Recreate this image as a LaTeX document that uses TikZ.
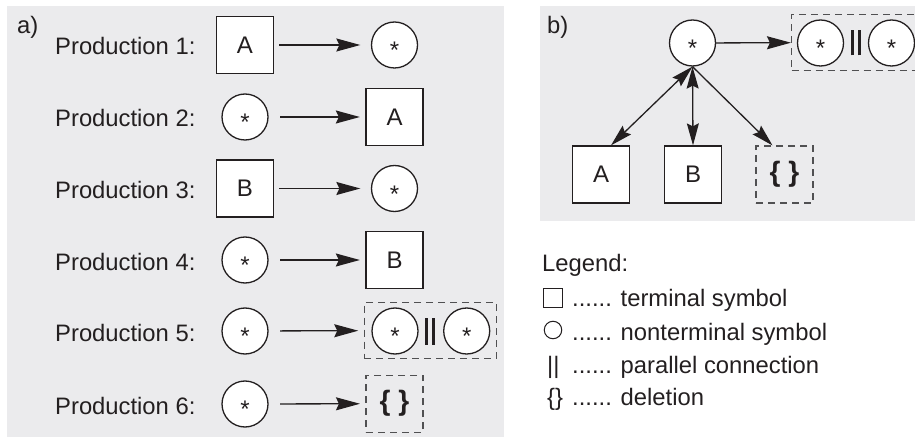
\documentclass[tikz,border=0pt]{standalone}
\usepackage{fontspec}
\setmainfont{Liberation Sans}
\usetikzlibrary{arrows.meta}
\definecolor{panel}{RGB}{235,235,237}
\definecolor{ink}{RGB}{35,31,32}
\definecolor{dashink}{RGB}{80,80,82}
% centred asterisk for nonterminal circles
\newcommand\nstar{\raisebox{-13.9pt}[0pt][0pt]{*}}
\newcommand\parbars[1]{\rule{2.8pt}{#1}\hspace{4pt}\rule{2.8pt}{#1}}
\begin{document}
\begin{tikzpicture}[x=1pt,y=-1pt,
  lab/.style={font=\fontsize{23.8}{28}\selectfont, text=ink, inner sep=0pt},
  term/.style={draw=ink, fill=white, line width=1.3pt, minimum size=57pt,
    inner sep=0pt, font=\fontsize{24}{28}\selectfont, text=ink},
  nonterm/.style={circle, draw=ink, fill=white, line width=1.3pt,
    minimum size=46pt, inner sep=0pt, font=\fontsize{24}{24}\selectfont, text=ink},
  grp/.style={draw=dashink, line width=1.1pt, dash pattern=on 7pt off 5pt,
    minimum height=56pt, inner sep=0pt},
  del/.style={grp, minimum width=57pt, minimum height=57pt,
    font=\fontsize{28}{32}\selectfont\bfseries, text=ink},
  bars/.style={inner sep=0pt, text=ink},
  arr/.style={draw=ink, line width=1.3pt, -{Stealth[length=24pt,width=13pt,inset=3pt]}},
  darr/.style={draw=ink, line width=1.3pt,
    {Stealth[length=22pt,width=12pt,inset=3pt]}-{Stealth[length=22pt,width=12pt,inset=3pt]}},
  sarr/.style={draw=ink, line width=1.3pt, -{Stealth[length=22pt,width=12pt,inset=3pt]}},
  fbox/.style={shorten <=5pt}, fcirc/.style={shorten <=11.5pt},
  ebox/.style={shorten >=5.5pt}, ecirc/.style={shorten >=10.5pt}]

\clip (0,0) rectangle (915,438);

% panels
\fill[panel] (7,6) rectangle (504,437);
\fill[panel] (540,6) rectangle (915,221);

% ---- a) productions ----
\node[lab, anchor=base west] (la) at (17,34) {a)};

\node[lab, anchor=base west] (p1) at (55,55) {Production 1:};
\node[term] (t1) at (245,45) {A};
\node[nonterm] (n1) at (394.5,45) {\nstar};
\draw[arr, fbox, ecirc] (t1) -- (n1);

\node[lab, anchor=base west] (p2) at (55,127) {Production 2:};
\node[nonterm] (n2) at (245,117) {\nstar};
\node[term] (t2) at (394.5,117) {A};
\draw[arr, fcirc, ebox] (n2) -- (t2);

\node[lab, anchor=base west] (p3) at (55,198.5) {Production 3:};
\node[term] (t3) at (245,188.5) {B};
\node[nonterm] (n3) at (394.5,188.5) {\nstar};
\draw[arr, fbox, ecirc] (t3) -- (n3);

\node[lab, anchor=base west] (p4) at (55,270) {Production 4:};
\node[nonterm] (n4) at (245,260) {\nstar};
\node[term] (t4) at (394.5,260) {B};
\draw[arr, fcirc, ebox] (n4) -- (t4);

\node[lab, anchor=base west] (p5) at (55,341.5) {Production 5:};
\node[nonterm] (n5) at (245,331) {\nstar};
\node[grp, minimum width=132.4pt] (g5) at (430.5,330.5) {};
\node[nonterm] (g5a) at (395,331) {\nstar};
\node[bars] (g5b) at (430,331) {\parbars{27pt}};
\node[nonterm] (g5c) at (466.7,331) {\nstar};
\draw[arr, fcirc, ebox] (n5) -- (g5);

\node[lab, anchor=base west] (p6) at (55,414) {Production 6:};
\node[nonterm] (n6) at (245,404) {\nstar};
\node[del] (d6) at (394.5,403.7) {\{\ \}};
\draw[arr, fcirc, ebox] (n6) -- (d6);

% ---- b) combined rules ----
\node[lab, anchor=base west] (lb) at (547,34) {b)};
\node[nonterm] (top) at (692.5,43) {\nstar};
\node[grp, minimum width=129pt] (gb) at (856,42.5) {};
\node[nonterm] (gba) at (820.5,43) {\nstar};
\node[bars] (gbb) at (856,43) {\parbars{25pt}};
\node[nonterm] (gbc) at (891.5,43) {\nstar};
\draw[arr] (top) -- (gb);

\node[term] (bA) at (601,174.5) {A};
\node[term] (bB) at (693,174.5) {B};
\node[del] (bD) at (784.5,174.5) {\{\ \}};
\draw[darr] (top.south) -- ([xshift=10pt]bA.north);
\draw[darr] (top.south) -- (bB.north);
\draw[sarr] (top.south) -- ([xshift=-12pt]bD.north);

% ---- legend ----
\node[lab, anchor=base west] (lg) at (542,272) {Legend:};
\node[draw=ink, line width=1pt, minimum size=19pt, inner sep=0pt] (ls) at (553,297.5) {};
\node[lab, anchor=base west] (lt1) at (572,306) {...... terminal symbol};
\node[circle, draw=ink, line width=1pt, minimum size=17.5pt, inner sep=0pt] (lc) at (553,330) {};
\node[lab, anchor=base west] (lt2) at (572,340) {...... nonterminal symbol};
\node[lab, anchor=base west] (lp) at (547,373) {||};
\node[lab, anchor=base west] (lt3) at (572,373) {...... parallel connection};
\node[lab, anchor=base west] (ld) at (547,405) {\{\}};
\node[lab, anchor=base west] (lt4) at (572,405) {...... deletion};
\end{tikzpicture}
\end{document}
